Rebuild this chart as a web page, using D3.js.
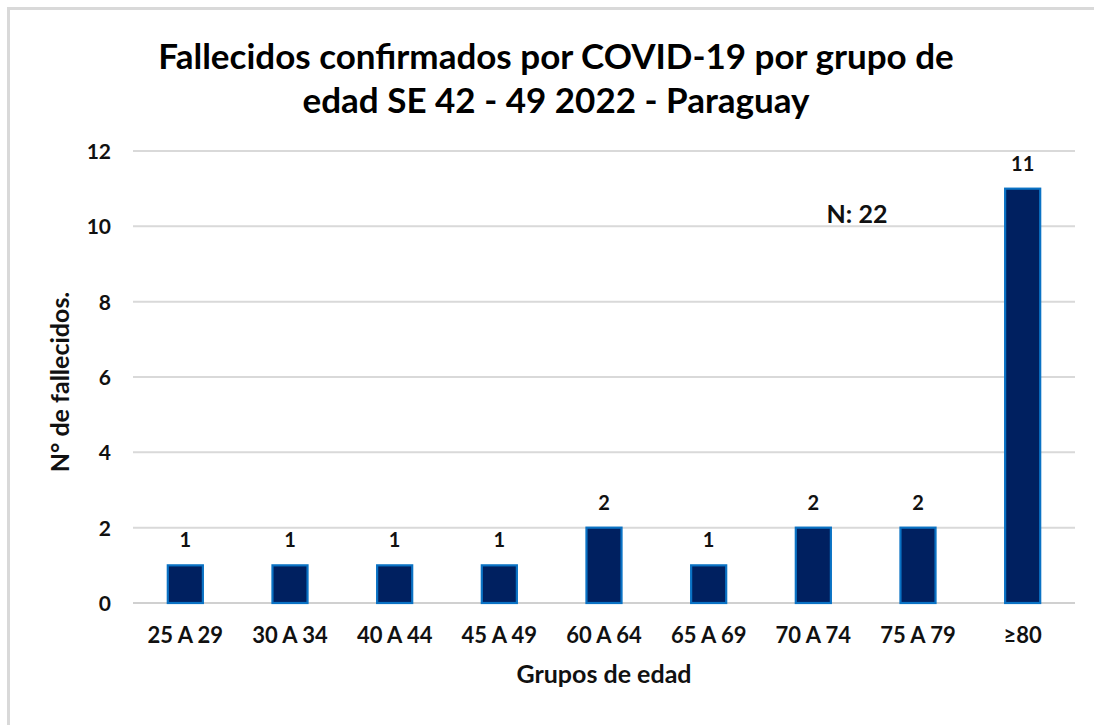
<!DOCTYPE html>
<html>
<head>
<meta charset="utf-8">
<script src="https://cdn.jsdelivr.net/npm/d3@7"></script>
<style>
  html, body { margin: 0; padding: 0; background: #fff; }
  svg { display: block; font-family: Lato, "Open Sans", sans-serif; }
</style>
</head>
<body>
<svg id="chart" width="1094" height="725"></svg>
<script>
const categories = ["25 A 29", "30 A 34", "40 A 44", "45 A 49", "60 A 64", "65 A 69", "70 A 74", "75 A 79", "≥80"];
const values = [1, 1, 1, 1, 2, 1, 2, 2, 11];
const yTicks = [0, 2, 4, 6, 8, 10, 12];
const titleLines = ["Fallecidos confirmados por COVID-19 por grupo de", "edad SE 42 - 49 2022 - Paraguay"];
const xTitle = "Grupos de edad";
const yTitle = "N° de fallecidos.";
const note = "N: 22";

const svg = d3.select("#chart");
const W = 1094, H = 725;
const m = { left: 133, right: 1075, top: 151, bottom: 603 };

// outer border (top & left visible, others off-page)
svg.append("path")
  .attr("d", `M8.5,${H + 5} L8.5,8.5 L${W + 5},8.5`)
  .attr("fill", "none").attr("stroke", "#d9d9d9").attr("stroke-width", 3);

const x = d3.scaleBand().domain(categories).range([m.left, m.right]).paddingInner(0.665).paddingOuter(0.3325);
const y = d3.scaleLinear().domain([0, 12]).range([m.bottom, m.top]);

// gridlines
svg.append("g").selectAll("line").data(yTicks).join("line")
  .attr("x1", m.left).attr("x2", m.right)
  .attr("y1", d => y(d)).attr("y2", d => y(d))
  .attr("stroke", d => d === 0 ? "#d0d0d0" : "#d9d9d9").attr("stroke-width", 2);

// y axis labels
const yAxis = d3.axisLeft(y).tickValues(yTicks).tickSize(0).tickPadding(0);
const yg = svg.append("g").attr("transform", `translate(111,0)`).call(yAxis);
yg.select(".domain").remove();
yg.selectAll("text").attr("font-size", 21).attr("font-weight", "bold").attr("fill", "#111")
  .attr("font-family", "Lato, sans-serif").attr("dy", "0.36em");

// bars
svg.append("g").selectAll("rect").data(values).join("rect")
  .attr("x", (d, i) => x(categories[i]))
  .attr("y", d => y(d))
  .attr("width", x.bandwidth())
  .attr("height", d => y(0) - y(d))
  .attr("fill", "#002060")
  .attr("stroke", "#0a72c4").attr("stroke-width", 2.2);

// data labels
svg.append("g").selectAll("text").data(values).join("text")
  .attr("x", (d, i) => x(categories[i]) + x.bandwidth() / 2)
  .attr("y", d => y(d) - 18)
  .attr("text-anchor", "middle")
  .attr("font-size", 20).attr("font-weight", "bold").attr("fill", "#111")
  .text(d => d);

// x axis labels
const xAxis = d3.axisBottom(x).tickSize(0).tickPadding(0);
const xg = svg.append("g").attr("transform", `translate(0,${643})`).call(xAxis);
xg.select(".domain").remove();
xg.selectAll("text").attr("font-size", 22).attr("font-weight", "bold").attr("fill", "#111")
  .attr("font-family", "Lato, sans-serif").attr("dy", 0);

// title
svg.append("g").selectAll("text").data(titleLines).join("text")
  .attr("x", 556).attr("y", (d, i) => 69 + i * 44)
  .attr("text-anchor", "middle")
  .attr("font-size", 35).attr("font-weight", "bold").attr("fill", "#000")
  .text(d => d);

// axis titles
svg.append("text").attr("x", 604).attr("y", 683)
  .attr("text-anchor", "middle").attr("font-size", 25).attr("font-weight", "bold").attr("fill", "#111")
  .text(xTitle);

svg.append("text").attr("transform", `translate(69,382) rotate(-90)`)
  .attr("text-anchor", "middle").attr("font-size", 25).attr("font-weight", "bold").attr("fill", "#111")
  .text(yTitle);

// note
svg.append("text").attr("x", 857).attr("y", 223)
  .attr("text-anchor", "middle").attr("font-size", 25).attr("font-weight", "bold").attr("fill", "#111")
  .text(note);
</script>
</body>
</html>
